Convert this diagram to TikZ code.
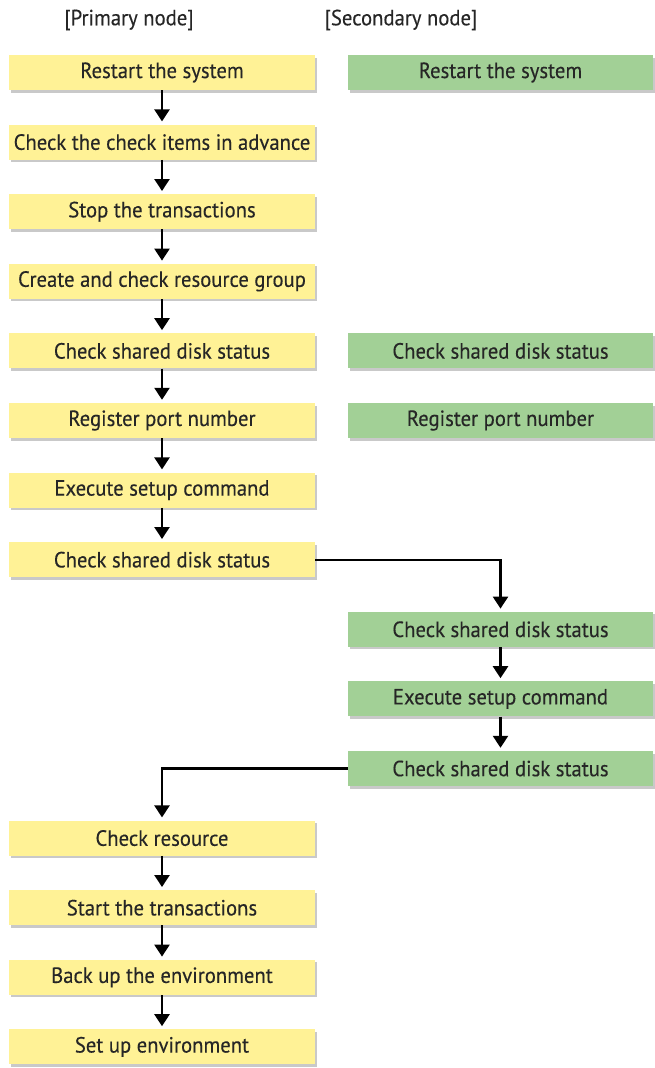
\documentclass[tikz,border=0pt]{standalone}
\usepackage{fontspec}
\setmainfont{PT Sans}[FakeStretch=0.94,FakeBold=0.25]
\usetikzlibrary{arrows.meta,shadows}
\definecolor{ybox}{RGB}{255,242,150}
\definecolor{gbox}{RGB}{162,208,150}
\tikzset{
  x=1pt,y=-1pt,
  stepbox/.style={minimum width=306pt,minimum height=35pt,inner sep=0pt,font=\fontsize{22}{24}\selectfont,
    text=black!85,
    drop shadow={shadow xshift=2pt,shadow yshift=-2.5pt,fill=black!30,opacity=0.7}},
  pbox/.style={stepbox,fill=ybox},
  sbox/.style={stepbox,fill=gbox,minimum width=305pt},
  flow/.style={line width=2.4pt,-{Triangle[width=15pt,length=12pt]},shorten >=3pt},
  head/.style={font=\fontsize{22}{24}\selectfont,text=black!85}
}
\begin{document}
\begin{tikzpicture}
\useasboundingbox (0,0) rectangle (654,1068);
\node[head] (hp) at (129,20) {[Primary node]};
\node[head] (hs) at (401,20) {[Secondary node]};
\node[pbox] (p1) at (162,72.5) {Restart the system};
\node[pbox] (p2) at (162,142.1) {Check the check items in advance};
\node[pbox] (p3) at (162,211.7) {Stop the transactions};
\node[pbox] (p4) at (162,281.3) {Create and check resource group};
\node[pbox] (p5) at (162,350.9) {Check shared disk status};
\node[pbox] (p6) at (162,420.5) {Register port number};
\node[pbox] (p7) at (162,490.1) {Execute setup command};
\node[pbox] (p8) at (162,559.7) {Check shared disk status};
\node[sbox] (s1) at (500.5,72.5) {Restart the system};
\node[sbox] (s5) at (500.5,350.9) {Check shared disk status};
\node[sbox] (s6) at (500.5,420.5) {Register port number};
\node[sbox] (s9) at (500.5,629.3) {Check shared disk status};
\node[sbox] (s10) at (500.5,698.9) {Execute setup command};
\node[sbox] (s11) at (500.5,768.5) {Check shared disk status};
\node[pbox] (p12) at (162,838.1) {Check resource};
\node[pbox] (p13) at (162,907.7) {Start the transactions};
\node[pbox] (p14) at (162,977.3) {Back up the environment};
\node[pbox] (p15) at (162,1046.9) {Set up environment};
\foreach \a/\b in {p1/p2,p2/p3,p3/p4,p4/p5,p5/p6,p6/p7,p7/p8,s9/s10,s10/s11,p12/p13,p13/p14,p14/p15}
  \draw[flow] (\a) -- (\b);
\draw[flow] (p8.east) -| (s9.north);
\draw[flow] (s11.west) -| (p12.north);
\end{tikzpicture}
\end{document}
